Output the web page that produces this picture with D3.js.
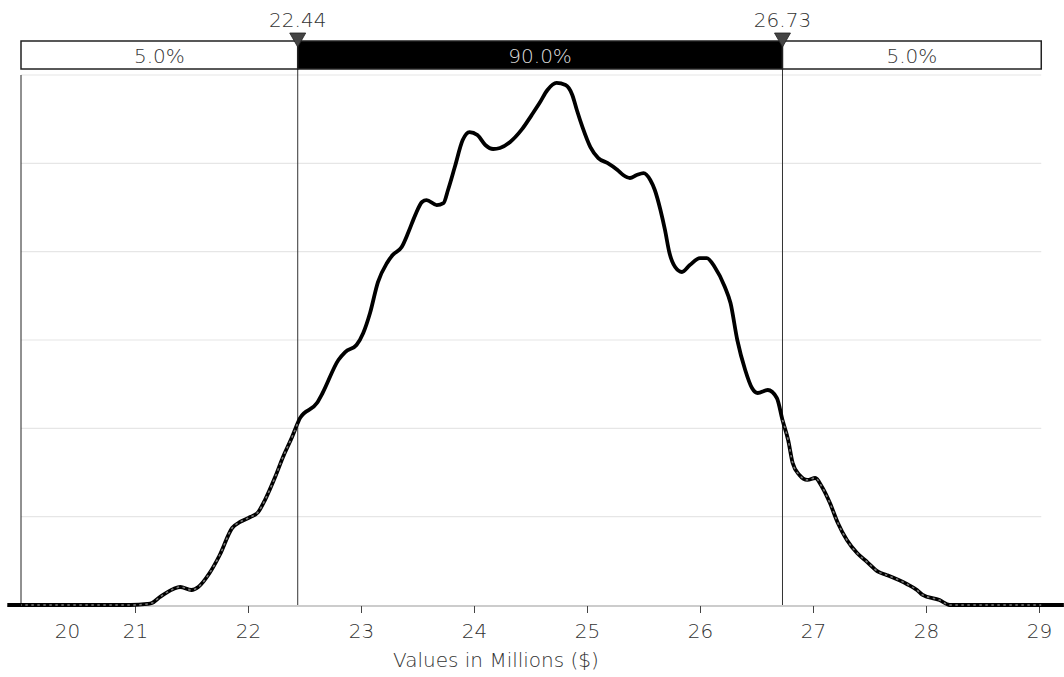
<!DOCTYPE html>
<html>
<head>
<meta charset="utf-8">
<script src="https://cdn.jsdelivr.net/npm/d3@7"></script>
<style>
  body { margin: 0; background: #fff; }
  text { font-family: "DejaVu Sans", sans-serif; font-weight: 200; fill: #333; }
</style>
</head>
<body>
<svg width="1064" height="677"></svg>
<script>
'use strict';

// values in millions
var valuesX = [19.87, 20.96, 21.11, 21.15, 21.22, 21.34, 21.40, 21.50, 21.56, 21.66, 21.75, 21.86,
  21.93, 22.02, 22.09, 22.15, 22.24, 22.31, 22.39, 22.44, 22.46, 22.61, 22.66, 22.80, 22.86,
  22.96, 23.02, 23.08, 23.15, 23.23, 23.28, 23.36, 23.42, 23.48, 23.54, 23.58, 23.67, 23.73,
  23.77, 23.83, 23.90, 23.96, 24.03, 24.10, 24.17, 24.23, 24.32, 24.42, 24.51, 24.58, 24.65,
  24.73, 24.81, 24.87, 24.91, 24.96, 25.03, 25.10, 25.18, 25.27, 25.32, 25.38, 25.44, 25.50,
  25.56, 25.60, 25.65, 25.69, 25.73, 25.78, 25.84, 25.91, 26.00, 26.06, 26.13, 26.22, 26.27,
  26.33, 26.40, 26.46, 26.51, 26.60, 26.68, 26.73, 26.78, 26.82, 26.88, 26.95, 27.02, 27.08,
  27.15, 27.22, 27.30, 27.39, 27.48, 27.58, 27.65, 27.83, 27.92, 27.97, 28.12, 28.21, 29.22];

// probability density at each value
var density = [0, 0, 0.0006, 0.0011, 0.0045, 0.0091, 0.0102, 0.0085, 0.0102, 0.0181, 0.0283, 0.0436,
  0.0470, 0.0498, 0.0526, 0.0594, 0.0724, 0.0838, 0.0951, 0.1030, 0.1058, 0.1143, 0.1200, 0.1387, 0.1432,
  0.1472, 0.1540, 0.1653, 0.1828, 0.1936, 0.1981, 0.2026, 0.2111, 0.2207, 0.2281, 0.2292, 0.2264, 0.2275,
  0.2349, 0.2479, 0.2632, 0.2677, 0.2660, 0.2604, 0.2581, 0.2587, 0.2621, 0.2689, 0.2773, 0.2841, 0.2915,
  0.2955, 0.2943, 0.2887, 0.2802, 0.2705, 0.2592, 0.2530, 0.2502, 0.2462, 0.2434, 0.2417, 0.2434, 0.2445,
  0.2406, 0.2349, 0.2236, 0.2123, 0.1992, 0.1913, 0.1885, 0.1924, 0.1964, 0.1964, 0.1913, 0.1800, 0.1709,
  0.1500, 0.1330, 0.1228, 0.1200, 0.1217, 0.1172, 0.1047, 0.0934, 0.0804, 0.0736, 0.0708, 0.0719, 0.0668,
  0.0577, 0.0464, 0.0368, 0.0294, 0.0243, 0.0187, 0.0170, 0.0119, 0.0085, 0.0057, 0.0028, 0, 0];

var xTicks = [20, 21, 22, 23, 24, 25, 26, 27, 28, 29];
var gridTicks = [0.05, 0.10, 0.15, 0.20, 0.25, 0.30];
var cutoffs = [22.44, 26.73];
var bandLabels = ['5.0%', '90.0%', '5.0%'];
var xTitle = 'Values in Millions ($)';

var svg = d3.select('svg');

var x = d3.scaleLinear().domain([20, 29]).range([22, 1039]);
var y = d3.scaleLinear().domain([0, 0.3]).range([605, 75]);

var plotLeft = x(20) - 1;
var plotRight = x(29.02);

var points = valuesX.map(function(v, i) { return { x: v, y: density[i] }; });

svg.append('defs').append('clipPath')
    .attr('id', 'plotclip')
    .append('rect')
    .attr('x', plotLeft).attr('y', 0)
    .attr('width', plotRight - plotLeft).attr('height', 677);

// grid
svg.append('g').selectAll('line')
    .data(gridTicks)
    .enter()
    .append('line')
    .attr('stroke', '#e6e6e6')
    .attr('stroke-width', 1.2)
    .attr('x1', plotLeft)
    .attr('x2', plotRight)
    .attr('y1', function(d) { return y(d); })
    .attr('y2', function(d) { return y(d); });

// x axis
var axisX = d3.axisBottom(x)
    .tickValues(xTicks)
    .tickFormat(d3.format('d'))
    .tickSize(7)
    .tickSizeOuter(0);

var gx = svg.append('g')
    .attr('transform', 'translate(0,' + (y(0) + 1) + ')')
    .call(axisX);
gx.select('.domain')
    .attr('d', 'M' + x(valuesX[0]) + ',0H1064')
    .attr('stroke', '#999');
gx.selectAll('.tick line').attr('stroke', '#444');
gx.selectAll('.tick text')
    .attr('y', 18)
    .style('font-size', '20px');
// first tick: label only, pulled inside
gx.selectAll('.tick').filter(function(d) { return d === 20; })
    .each(function() {
        d3.select(this).select('line').remove();
        d3.select(this).select('text').attr('x', 45);
    });

svg.append('text')
    .attr('x', 496)
    .attr('y', 667)
    .attr('text-anchor', 'middle')
    .style('font-size', '20px')
    .text(xTitle);

// y axis line
svg.append('line')
    .attr('stroke', '#222')
    .attr('x1', plotLeft).attr('x2', plotLeft)
    .attr('y1', y(0.3)).attr('y2', y(0));

// cutoff lines
svg.append('g').selectAll('line')
    .data(cutoffs)
    .enter()
    .append('line')
    .attr('stroke', '#333')
    .attr('stroke-width', 1)
    .attr('x1', function(d) { return x(d); })
    .attr('x2', function(d) { return x(d); })
    .attr('y1', 69)
    .attr('y2', y(0));

// density curve
var line = d3.line()
    .x(function(d) { return x(d.x); })
    .y(function(d) { return y(d.y); })
    .curve(d3.curveMonotoneX);

svg.append('path')
    .datum(points)
    .attr('fill', 'none')
    .attr('stroke', '#000')
    .attr('stroke-width', 3.8)
    .attr('stroke-linejoin', 'round')
    .attr('d', line);

var leftTail = points.filter(function(d) { return d.x <= cutoffs[0]; });
var rightTail = points.filter(function(d) { return d.x >= cutoffs[1]; });

svg.append('g')
    .attr('clip-path', 'url(#plotclip)')
    .selectAll('path')
    .data([leftTail, rightTail])
    .enter()
    .append('path')
    .attr('fill', 'none')
    .attr('stroke', '#777')
    .attr('stroke-width', 1.6)
    .attr('stroke-dasharray', '2.5,3.5')
    .attr('d', line);

// band bar on top
var edges = [plotLeft, x(cutoffs[0]), x(cutoffs[1]), plotRight];
var bands = bandLabels.map(function(t, i) {
    return { label: t, x0: edges[i], x1: edges[i + 1], dark: i === 1 };
});

var bar = svg.append('g');
bar.selectAll('rect')
    .data(bands)
    .enter()
    .append('rect')
    .attr('x', function(d) { return d.x0; })
    .attr('y', 41)
    .attr('width', function(d) { return d.x1 - d.x0; })
    .attr('height', 28)
    .attr('fill', function(d) { return d.dark ? '#000' : '#fff'; })
    .attr('stroke', '#222')
    .attr('stroke-width', 1.5);

bar.selectAll('text')
    .data(bands)
    .enter()
    .append('text')
    .attr('x', function(d) { return (d.x0 + d.x1) / 2; })
    .attr('y', 63)
    .attr('text-anchor', 'middle')
    .style('font-size', '20px')
    .style('fill', function(d) { return d.dark ? '#ddd' : '#333'; })
    .text(function(d) { return d.label; });

// markers
var markers = svg.append('g').selectAll('g')
    .data(cutoffs)
    .enter()
    .append('g')
    .attr('transform', function(d) { return 'translate(' + x(d) + ',0)'; });

markers.append('path')
    .attr('d', 'M-8,33L8,33L0,47Z')
    .attr('fill', '#444')
    .attr('stroke', '#222')
    .attr('stroke-width', 0.8);

markers.append('text')
    .attr('y', 27)
    .attr('text-anchor', 'middle')
    .style('font-size', '20px')
    .text(function(d) { return d.toFixed(2); });
</script>
</body>
</html>
